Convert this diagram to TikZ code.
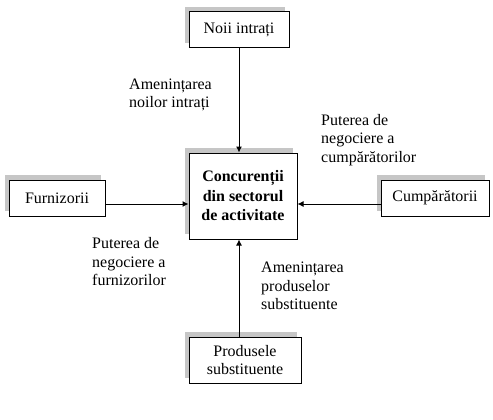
\documentclass[tikz,border=0pt]{standalone}
\usepackage{fontspec}
\setmainfont{Liberation Serif}
\usetikzlibrary{arrows.meta,shadows}

\begin{document}
\begin{tikzpicture}[x=1pt,y=-1pt,
  forta/.style={draw,line width=1pt,fill=white,inner sep=0pt,align=center,
    font=\fontsize{16.0}{18.0}\selectfont,
    drop shadow={shadow xshift=-4pt,shadow yshift=5pt,fill=gray!45,opacity=1}},
  eticheta/.style={anchor=west,inner sep=0pt,align=left,font=\fontsize{16.0}{18.5}\selectfont},
  sageata/.style={line width=1pt,-{Latex[length=6pt,width=6pt]}}]
\path[use as bounding box] (0,0) rectangle (493.0,420.0);
% casete
\node[forta,minimum width=100pt,minimum height=36pt] (noi) at (239,30) {Noii intrați};
\node[forta,minimum width=108pt,minimum height=86pt,font=\fontsize{16.0}{19.5}\selectfont\bfseries] (centru) at (243,196) {Concurenții\\din sectorul\\de activitate};
\node[forta,minimum width=96pt,minimum height=36pt] (furn) at (57,198) {Furnizorii};
\node[forta,minimum width=108pt,minimum height=36pt] (cump) at (435,198) {Cumpărătorii};
\node[forta,minimum width=112pt,minimum height=46pt] (prod) at (245,360) {Produsele\\substituente};
\coordinate (axa) at (239,204);
% sageti
\draw[sageata] (noi.south |- noi.south) -- (noi.south |- centru.north);
\draw[sageata] (axa |- prod.north) -- (axa |- centru.south);
\draw[sageata] (furn.east |- axa) -- (centru.west |- axa);
\draw[sageata] (cump.west |- axa) -- (centru.east |- axa);
% etichete
\node[eticheta] (amnoi) at (129,95) {Amenințarea\\noilor intrați};
\node[eticheta] (putcump) at (321,140) {Puterea de\\negociere a\\cumpărătorilor};
\node[eticheta] (putfurn) at (92,262) {Puterea de\\negociere a\\furnizorilor};
\node[eticheta] (amprod) at (261,286) {Amenințarea\\produselor\\substituente};
\end{tikzpicture}
\end{document}
